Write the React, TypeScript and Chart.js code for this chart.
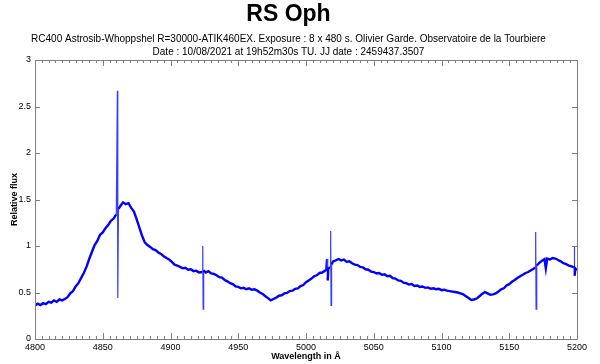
import React, { useEffect, useRef } from 'react';
import { Chart, registerables } from 'chart.js';
Chart.register(...registerables);

const titleText = 'RS Oph';
const subtitleLines = [
  'RC400 Astrosib-Whoppshel R=30000-ATIK460EX. Exposure : 8 x 480 s. Olivier Garde. Observatoire de la Tourbiere',
  'Date : 10/08/2021 at 19h52m30s TU. JJ date : 2459437.3507',
];
const xAxisTitle = 'Wavelength in \u00C5';
const yAxisTitle = 'Relative flux';

const wavelengths = [
  4800, 4802, 4804, 4806, 4808, 4810, 4812, 4814, 4816, 4818, 4820, 4822, 4824, 4826, 4828, 4830,
  4832, 4834, 4836, 4838, 4840, 4842, 4844, 4846, 4848, 4850, 4852, 4854, 4856, 4858, 4860,
  4860.8, 4861.1, 4861.6, 4863, 4865, 4867, 4869, 4871, 4873, 4875, 4877, 4879, 4881, 4883, 4885,
  4887, 4889, 4891, 4893, 4895, 4897, 4899, 4901, 4903, 4905, 4907, 4909, 4911, 4913, 4915, 4917,
  4919, 4921, 4923.5, 4923.8, 4924.1, 4924.5, 4926, 4928, 4930, 4932, 4934, 4936, 4938, 4940, 4942,
  4944, 4946, 4948, 4950, 4952, 4954, 4956, 4958, 4960, 4962, 4964, 4966, 4968, 4970, 4972, 4974,
  4976, 4978, 4980, 4982, 4984, 4986, 4988, 4990, 4992, 4994, 4996, 4998, 5000, 5002, 5004, 5006,
  5008, 5010, 5012, 5014, 5015, 5015.5, 5016, 5016.5, 5017.8, 5018.2, 5018.5, 5018.9, 5020, 5022,
  5024, 5026, 5028, 5030, 5032, 5034, 5036, 5038, 5040, 5042, 5044, 5046, 5048, 5050, 5052, 5054,
  5056, 5058, 5060, 5062, 5064, 5066, 5068, 5070, 5072, 5074, 5076, 5078, 5080, 5082, 5084, 5086,
  5088, 5090, 5092, 5094, 5096, 5098, 5100, 5102, 5104, 5106, 5108, 5110, 5112, 5114, 5116, 5118,
  5120, 5122, 5124, 5126, 5128, 5130, 5132, 5134, 5136, 5138, 5140, 5142, 5144, 5146, 5148, 5150,
  5152, 5154, 5156, 5158, 5160, 5162, 5164, 5166, 5168, 5169.3, 5169.5, 5169.8, 5170.3, 5172,
  5174, 5176, 5177, 5178, 5180, 5182, 5184, 5186, 5188, 5190, 5192, 5194, 5196, 5197.8, 5198.0,
  5198.3, 5198.7, 5200,
];

const flux = [
  0.36, 0.38, 0.365, 0.385, 0.375, 0.40, 0.39, 0.415, 0.40, 0.425, 0.415, 0.43, 0.45, 0.49, 0.515, 0.565,
  0.60, 0.655, 0.71, 0.775, 0.86, 0.935, 1.01, 1.055, 1.12, 1.145, 1.19, 1.225, 1.27, 1.295, 1.34,
  2.67, 0.44, 1.40, 1.43, 1.47, 1.45, 1.46, 1.41, 1.37, 1.29, 1.20, 1.11, 1.04, 1.01, 0.99,
  0.965, 0.955, 0.93, 0.915, 0.89, 0.87, 0.855, 0.83, 0.80, 0.79, 0.775, 0.76, 0.765, 0.745, 0.75, 0.73,
  0.735, 0.715, 0.72, 1.00, 0.32, 0.74, 0.715, 0.73, 0.705, 0.70, 0.685, 0.665, 0.66, 0.635, 0.62,
  0.60, 0.59, 0.565, 0.56, 0.545, 0.55, 0.535, 0.545, 0.53, 0.535, 0.52, 0.50, 0.485, 0.46, 0.44, 0.415,
  0.43, 0.445, 0.465, 0.47, 0.49, 0.495, 0.515, 0.52, 0.54, 0.545, 0.57, 0.58, 0.61, 0.63, 0.65, 0.675,
  0.685, 0.71, 0.715, 0.735, 0.74, 0.86, 0.63, 0.76, 0.77, 1.16, 0.36, 0.80, 0.835, 0.845,
  0.86, 0.845, 0.855, 0.83, 0.835, 0.815, 0.80, 0.795, 0.775, 0.77, 0.75, 0.745, 0.725, 0.72, 0.705, 0.71,
  0.69, 0.695, 0.675, 0.68, 0.655, 0.65, 0.63, 0.625, 0.605, 0.60, 0.585, 0.59, 0.57, 0.575, 0.56, 0.565,
  0.55, 0.555, 0.54, 0.545, 0.535, 0.54, 0.525, 0.53, 0.52, 0.515, 0.51, 0.505, 0.50, 0.49, 0.48, 0.46,
  0.44, 0.42, 0.425, 0.435, 0.46, 0.485, 0.505, 0.49, 0.475, 0.48, 0.49, 0.51, 0.535, 0.545, 0.575, 0.59,
  0.615, 0.635, 0.655, 0.675, 0.69, 0.71, 0.72, 0.74, 0.755, 0.77, 1.15, 0.32, 0.79, 0.815,
  0.84, 0.86, 0.76, 0.865, 0.855, 0.87, 0.865, 0.85, 0.835, 0.815, 0.805, 0.79, 0.78, 0.77, 0.99,
  0.68, 0.76, 0.74,
];

const xMin = 4800;
const xMax = 5200;
const xMajorStep = 50;
const xMinorStep = 5;
const yMin = 0;
const yMax = 3;
const yStep = 0.5;

const FONT = '"Liberation Sans", Arial, Helvetica, sans-serif';

const framePlugin = {
  id: 'idlFrame',
  afterDraw(chart: any) {
    const { ctx, chartArea } = chart;
    const xs = chart.scales.x;
    const ys = chart.scales.y;
    const { left, right, top, bottom } = chartArea;
    ctx.save();
    ctx.strokeStyle = '#808080';
    ctx.lineWidth = 1;
    ctx.beginPath();
    ctx.rect(Math.round(left) + 0.5, Math.round(top) + 0.5, Math.round(right - left), Math.round(bottom - top));
    ctx.stroke();
    ctx.beginPath();
    for (let v = xMin; v <= xMax; v += xMinorStep) {
      const px = Math.round(xs.getPixelForValue(v)) + 0.5;
      const len = v % xMajorStep === 0 ? 6 : 3;
      ctx.moveTo(px, bottom);
      ctx.lineTo(px, bottom - len);
      ctx.moveTo(px, top);
      ctx.lineTo(px, top + len);
    }
    for (let v = yMin; v <= yMax + 1e-9; v += yStep) {
      const py = Math.round(ys.getPixelForValue(v)) + 0.5;
      ctx.moveTo(left, py);
      ctx.lineTo(left + 5, py);
      ctx.moveTo(right, py);
      ctx.lineTo(right - 5, py);
    }
    ctx.stroke();
    ctx.restore();
  },
};

const isSpike = (c: any) => Math.abs(c.p1.parsed.y - c.p0.parsed.y) > 0.2;

export default function App() {
  const ref = useRef<HTMLCanvasElement>(null);
  useEffect(() => {
    document.body.style.margin = '0';
    const canvas = ref.current!;
    const points = wavelengths.map((w, i) => ({ x: w, y: flux[i] }));
    const chart = new Chart(canvas, {
      type: 'line',
      data: {
        datasets: [
          {
            data: points,
            borderColor: '#0000ff',
            borderWidth: 2.4,
            pointRadius: 0,
            tension: 0,
            fill: false,
            segment: {
              borderWidth: (c: any) => (isSpike(c) ? 1.2 : 2.4),
              borderColor: (c: any) => (isSpike(c) ? '#3c3cff' : '#0000ff'),
            },
          } as any,
        ],
      },
      options: {
        animation: false,
        responsive: false,
        maintainAspectRatio: false,
        parsing: false as any,
        layout: { padding: { left: 0, right: 23, top: 0, bottom: 0 } },
        plugins: {
          legend: { display: false },
          tooltip: { enabled: false },
          title: {
            display: true,
            text: titleText,
            color: '#000',
            font: { family: FONT, size: 23, weight: 'bold', lineHeight: 1.0 },
            padding: { top: 3, bottom: 0 },
          },
          subtitle: {
            display: true,
            text: subtitleLines,
            color: '#000',
            font: { family: FONT, size: 10, lineHeight: 13 / 10 },
            padding: { top: 7, bottom: 1 },
          },
        },
        scales: {
          x: {
            type: 'linear',
            min: xMin,
            max: xMax,
            grid: { display: false, drawTicks: false },
            border: { display: false },
            ticks: {
              stepSize: xMajorStep,
              color: '#000',
              padding: 3,
              maxRotation: 0,
              font: { family: FONT, size: 9 },
              callback: (v: any) => String(v),
            },
            title: {
              display: true,
              text: xAxisTitle,
              color: '#000',
              font: { family: FONT, size: 9, weight: 'bold', lineHeight: 1.2 },
              padding: { top: 0, bottom: 2 },
            },
            afterFit: (s: any) => {
              s.height = 25;
            },
          },
          y: {
            type: 'linear',
            min: yMin,
            max: yMax,
            grid: { display: false, drawTicks: false },
            border: { display: false },
            ticks: {
              stepSize: yStep,
              color: '#000',
              padding: 4,
              font: { family: FONT, size: 9 },
              callback: (v: any) => String(v),
            },
            title: {
              display: true,
              text: yAxisTitle,
              color: '#000',
              font: { family: FONT, size: 9, weight: 'bold', lineHeight: 1.2 },
              padding: { top: 9, bottom: 0 },
            },
            afterFit: (s: any) => {
              s.width = 35;
            },
          },
        },
      },
      plugins: [framePlugin],
    });
    return () => chart.destroy();
  }, []);
  return (
    <div style={{ width: 600, height: 364 }}>
      <canvas ref={ref} width={600} height={364} style={{ display: 'block', width: 600, height: 364 }} />
    </div>
  );
}
